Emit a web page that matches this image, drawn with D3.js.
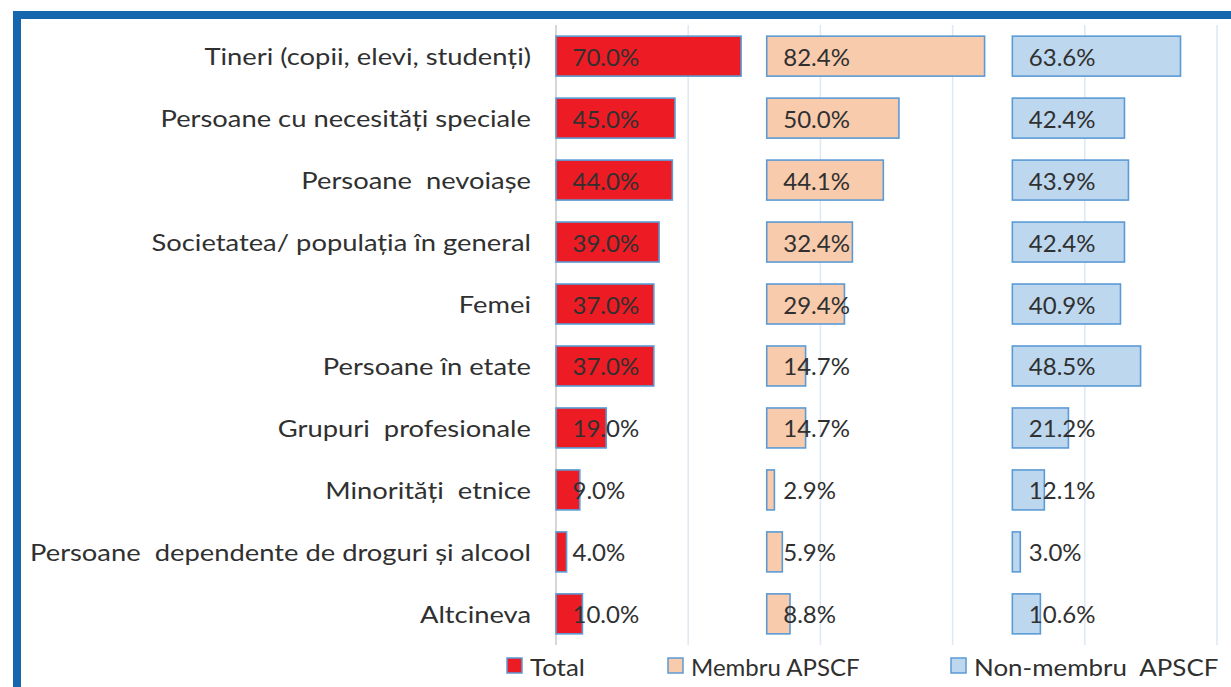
<!DOCTYPE html>
<html>
<head>
<meta charset="utf-8">
<script src="https://cdn.jsdelivr.net/npm/d3@7"></script>
<style>
  html, body { margin: 0; padding: 0; background: #fff; }
  svg { display: block; }
  text { font-family: Lato, "Open Sans", sans-serif; fill: #303030; }
</style>
</head>
<body>
<svg id="chart" width="1231" height="687"></svg>
<script>
const categories = [
  "Tineri (copii, elevi, studenți)",
  "Persoane cu necesități speciale",
  "Persoane  nevoiașe",
  "Societatea/ populația în general",
  "Femei",
  "Persoane în etate",
  "Grupuri  profesionale",
  "Minorități  etnice",
  "Persoane  dependente de droguri și alcool",
  "Altcineva"
];
const seriesNames = ["Total", "Membru APSCF", "Non-membru  APSCF"];
const totalValues   = [70.0, 45.0, 44.0, 39.0, 37.0, 37.0, 19.0, 9.0, 4.0, 10.0];
const membruValues  = [82.4, 50.0, 44.1, 32.4, 29.4, 14.7, 14.7, 2.9, 5.9, 8.8];
const nonMembruValues = [63.6, 42.4, 43.9, 42.4, 40.9, 48.5, 21.2, 12.1, 3.0, 10.6];
const gridTicks = [0, 50, 100, 150, 200, 250];

const fills = ["#ED1C24", "#F8CBAD", "#BDD7EE"];
const strokeCol = "#5B9BD5";
const panelStart = [0, 79.7, 172.6];   // where each panel's bars start on the shared axis
const allSeries = [totalValues, membruValues, nonMembruValues];

const svg = d3.select("#chart");

// frame
svg.append("rect").attr("x", 17).attr("y", 15).attr("width", 1300).attr("height", 800)
  .attr("fill", "#fff").attr("stroke", "#1666AD").attr("stroke-width", 8);

const x = d3.scaleLinear().domain([0, 250]).range([556, 1217]);
const y = d3.scaleBand().domain(categories).range([25, 645]).paddingInner(0.355).paddingOuter(0.18);

// gridlines
svg.append("g").selectAll("line").data(gridTicks).join("line")
  .attr("x1", d => x(d)).attr("x2", d => x(d))
  .attr("y1", 25).attr("y2", 645)
  .attr("stroke", d => d === 0 ? "#C8C8C8" : "#DDE8F4")
  .attr("stroke-width", 1.5);

// category labels (horizontally widened like the reference's stretched text)
svg.append("g").selectAll("text").data(categories).join("text")
  .attr("transform", d => `translate(531,${y(d) + y.bandwidth() / 2}) scale(1.14,1)`)
  .attr("text-anchor", "end").attr("dominant-baseline", "central")
  .attr("font-size", 24)
  .style("white-space", "pre")
  .attr("xml:space", "preserve")
  .text(d => d);

// bars
allSeries.forEach((vals, si) => {
  const g = svg.append("g");
  g.selectAll("rect").data(vals).join("rect")
    .attr("x", () => x(panelStart[si]))
    .attr("y", (d, i) => y(categories[i]))
    .attr("width", d => x(panelStart[si] + d) - x(panelStart[si]))
    .attr("height", y.bandwidth())
    .attr("fill", fills[si]).attr("stroke", strokeCol).attr("stroke-width", 1.6);
  g.selectAll("text").data(vals).join("text")
    .attr("x", () => x(panelStart[si]) + 16.5)
    .attr("y", (d, i) => y(categories[i]) + y.bandwidth() / 2)
    .attr("dominant-baseline", "central")
    .attr("font-size", 24)
    .text(d => d.toFixed(1) + "%");
});

// legend
const legendX = [507, 668, 951];
seriesNames.forEach((n, i) => {
  svg.append("rect").attr("x", legendX[i]).attr("y", 658).attr("width", 15).attr("height", 15)
    .attr("fill", fills[i]).attr("stroke", strokeCol).attr("stroke-width", 1.5);
  svg.append("text")
    .attr("transform", `translate(${legendX[i] + 23},666) scale(${i === 1 ? 1 : 1.08},1)`)
    .attr("dominant-baseline", "central").attr("font-size", 24)
    .attr("xml:space", "preserve").style("white-space", "pre")
    .text(n);
});
</script>
</body>
</html>
